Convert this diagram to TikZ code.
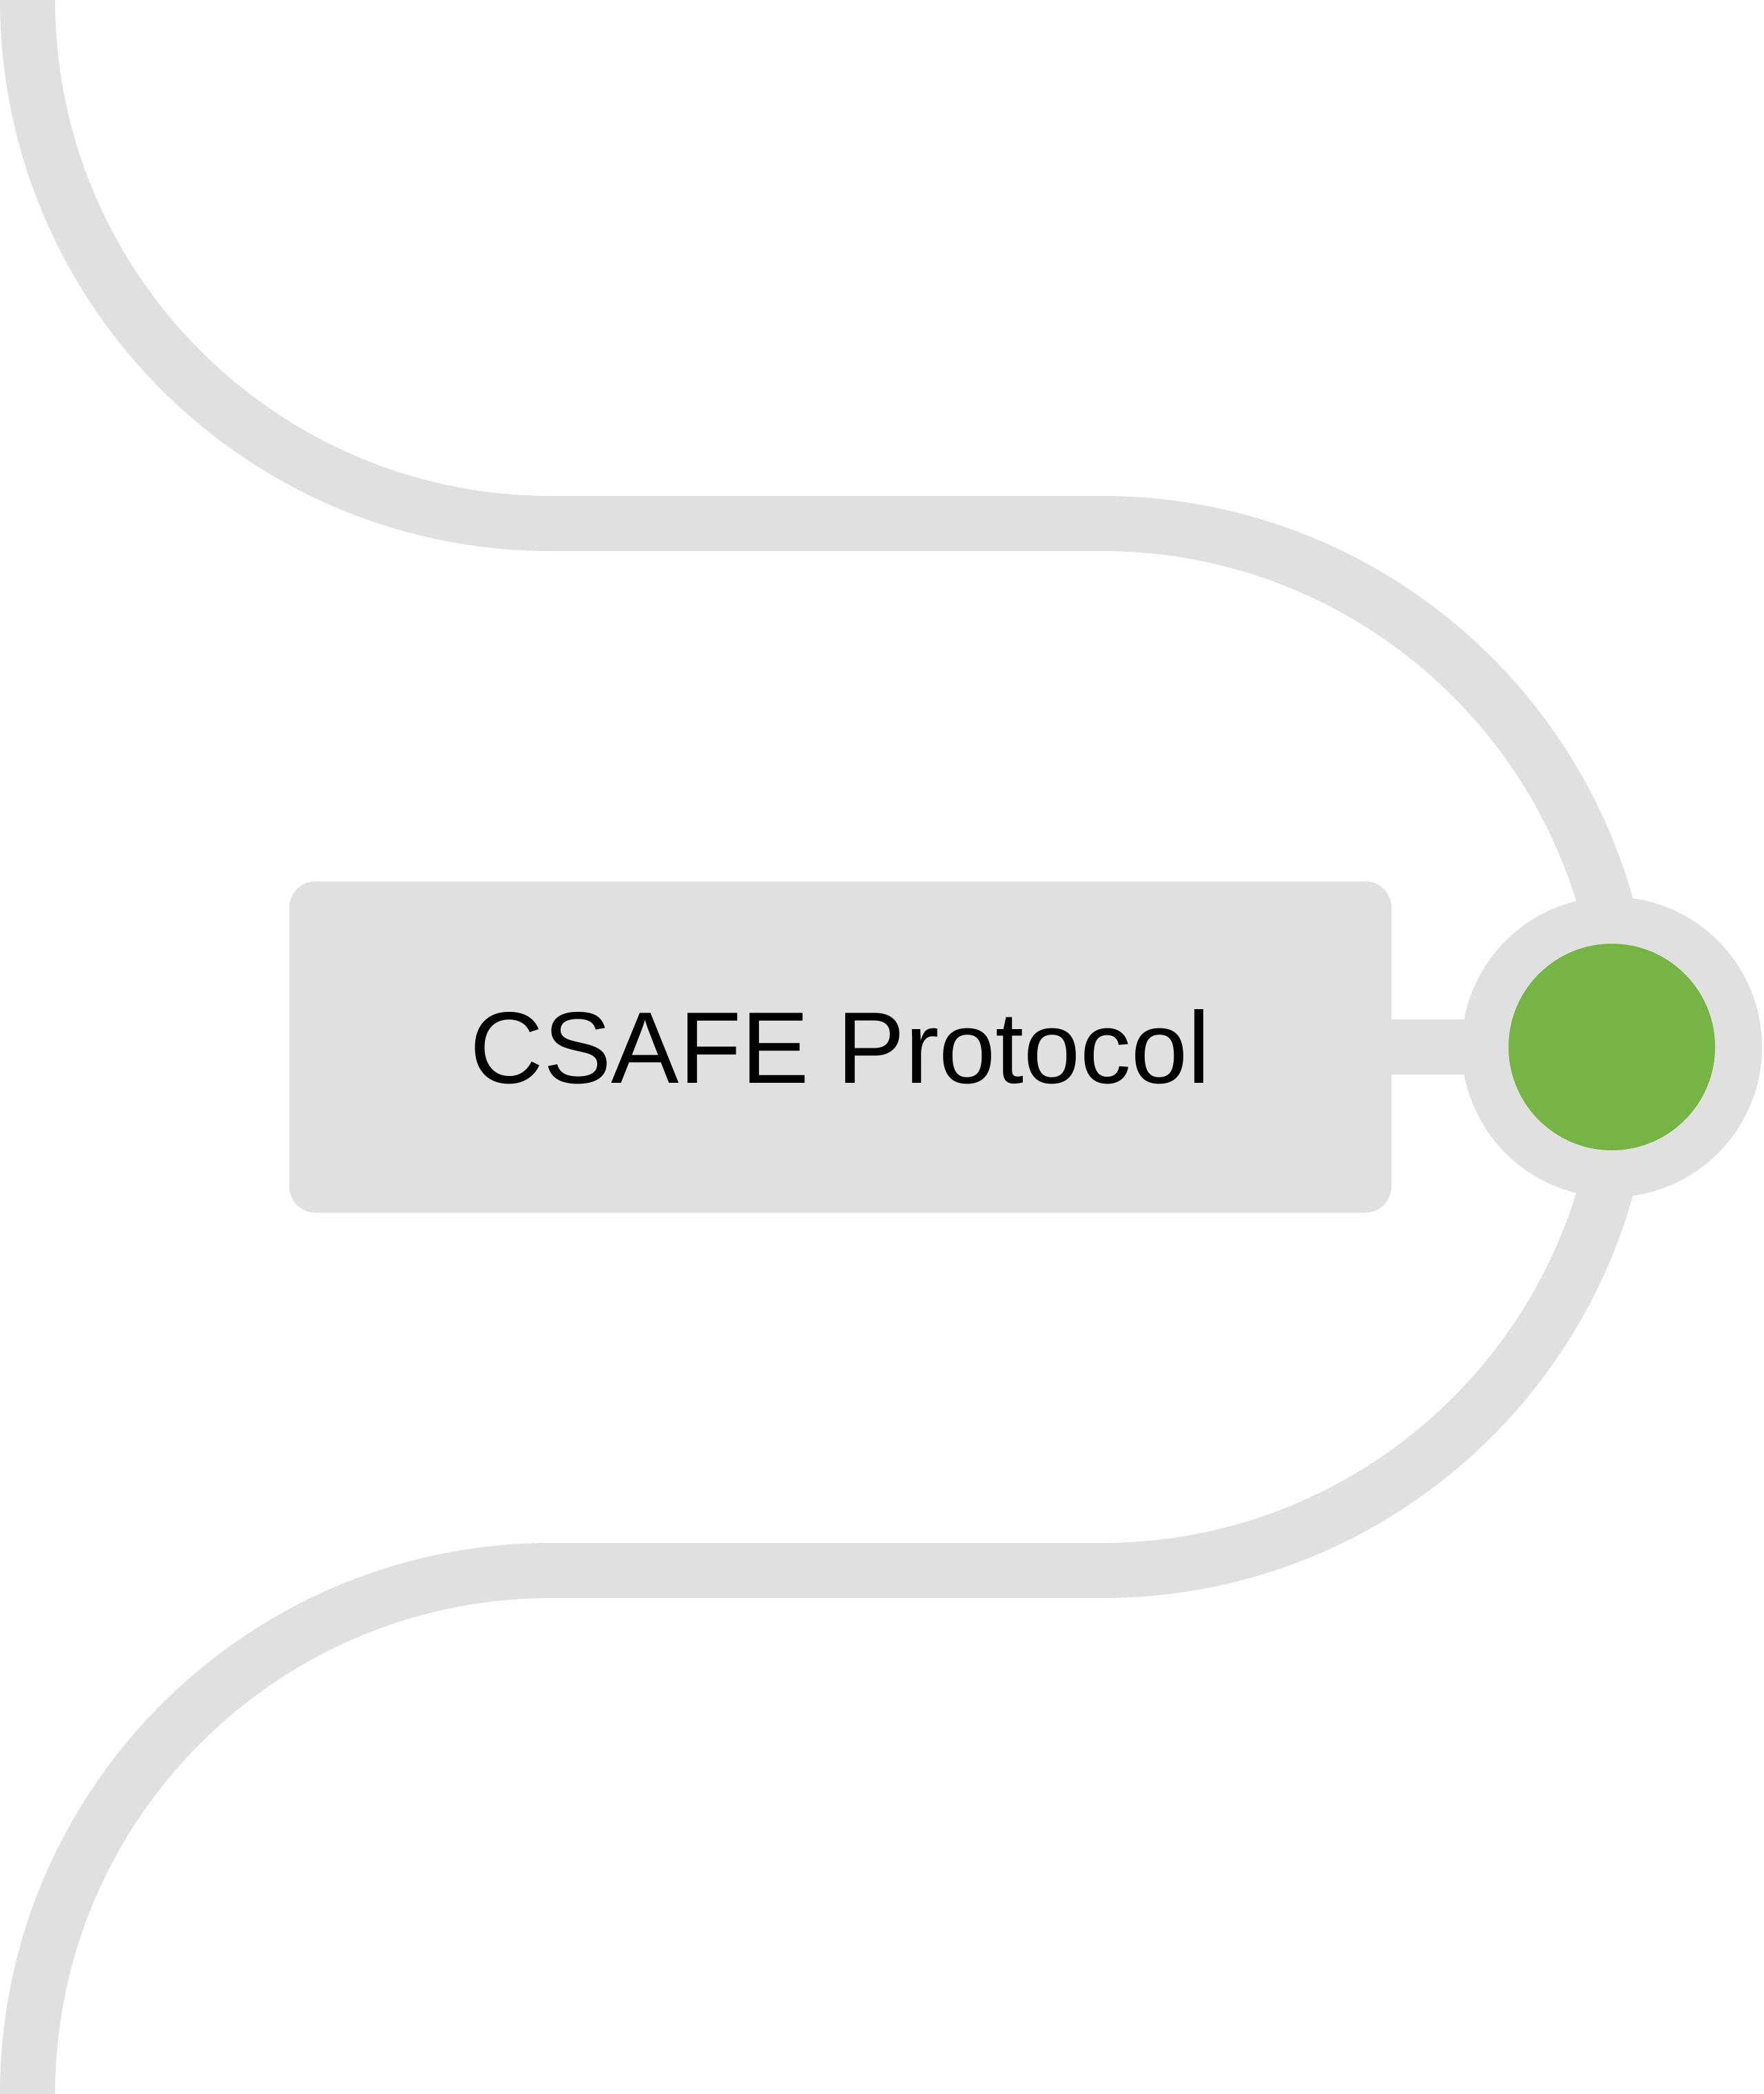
\documentclass[tikz,border=0pt]{standalone}
\usepackage{fontspec}
\setmainfont{Liberation Sans}
\definecolor{trackgray}{HTML}{E0E0E0}
\definecolor{dotgreen}{HTML}{76B545}
\begin{document}
\begin{tikzpicture}[line join=round]
				\tikzset{track/.style={draw=trackgray, line width=0.8cm},
				every node/.style={font=\fontsize{42}{50}\selectfont}}
				\useasboundingbox (0,0) rectangle (25.6,-30.4);
				% the winding track
				\draw[track] (0.4,0) arc (180:270:7.6) -- (16,-7.6)
					arc (90:0:7.6) arc (0:-90:7.6) -- (8,-22.8)
					arc (90:180:7.6);
				\node[fill=trackgray, rounded corners=0.38cm, minimum width=16cm,
					minimum height=4.81cm, inner sep=0, outer sep=0] (proto) at (12.2,-15.2) {CSAFE Protocol};
				\node[circle, fill=dotgreen, draw=trackgray, line width=0.68cm,
					minimum size=3.68cm, inner sep=0] (dot) at (23.4,-15.2) {};
				\draw[track, shorten >=1.6cm] (proto.east) -- (dot.center);
			\end{tikzpicture}
\end{document}
